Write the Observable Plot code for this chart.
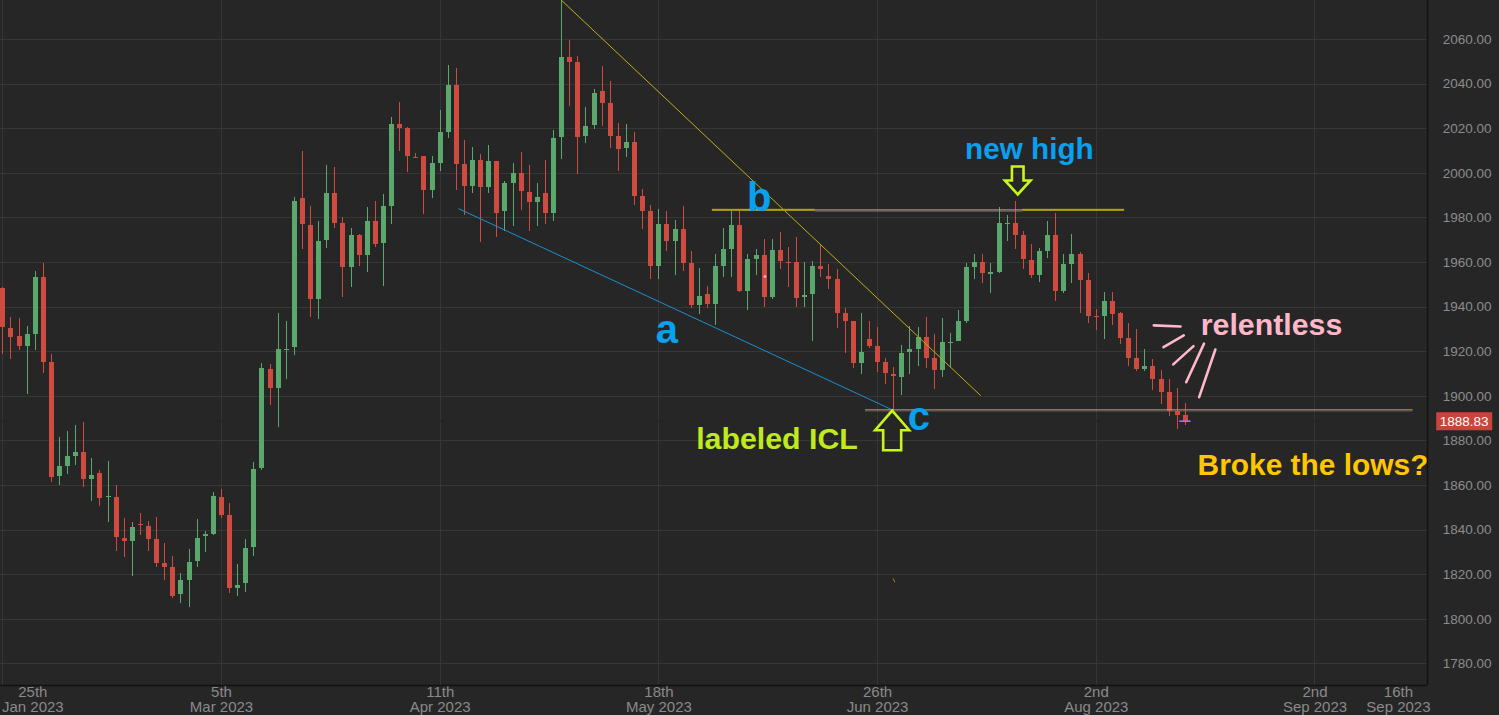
<!DOCTYPE html>
<html><head><meta charset="utf-8">
<script src="https://cdn.jsdelivr.net/npm/d3@7"></script>
<script src="https://cdn.jsdelivr.net/npm/@observablehq/plot@0.6"></script>
<style>
html,body{margin:0;padding:0;background:#262626;overflow:hidden;}
#chart svg{display:block;}
</style></head><body><div id="chart"></div>
<script>
// ---- daily candles (bar index 0..146) ----
const opens = [1948.5,1930.5,1927,1922.5,1927.7,1953.1,1915.2,1864.2,1868.5,1873.2,1875,1862.6,1865.5,1855,1854.6,1836.2,1834.9,1842.5,1841.6,1835.8,1824.9,1823.2,1811,1817.4,1826,1837,1838,1854.6,1846.4,1814,1816,1832.1,1867.5,1912.2,1903.4,1921,1921.8,1988.6,1976.7,1943.3,1969.9,1990.8,1977.4,1957.9,1972.1,1963.1,1978.4,1968.7,1985.1,2021.8,2020,2007.3,2007.5,1992.3,2004.5,2018.4,2039.4,2003.8,1994.2,2005.6,1993.5,2005.2,1982.9,1995.6,1999.8,1991.5,1987,1991.1,1981.8,2016.1,2051.8,2049.7,2016.6,2021.3,2036.7,2031.2,2016.5,2011.1,2014,1989.7,1982.7,1958.3,1976.9,1969.6,1974.8,1959.4,1940.7,1945.8,1941.3,1958.3,1966,1976.6,1947.1,1961.5,1963,1944.4,1965.4,1960.2,1960.2,1944.4,1945.5,1958.2,1953.7,1952.4,1937,1933.6,1914.9,1925.3,1922.3,1915.2,1909.8,1908.6,1919.5,1921,1926.5,1917.1,1911.6,1924.2,1924.6,1933.6,1957.9,1960.1,1954.5,1955.4,1977.4,1977.4,1972.1,1960.9,1954.2,1964.9,1972.1,1947.1,1959.1,1963.6,1951.9,1935.7,1935.9,1942.5,1937,1925.8,1917.1,1912,1913.4,1907.4,1901.6,1893.2,1891.5];
const highs = [1949,1935.5,1934.8,1931.3,1956.1,1959.7,1918.8,1881.5,1884.4,1886.8,1888.3,1872,1866.7,1870.9,1860,1845.4,1843.6,1847.6,1844,1845.8,1833.9,1828.2,1820.4,1831.2,1844.6,1839.4,1857,1858.2,1851.8,1824.6,1835.7,1870.2,1914.6,1914.1,1937.3,1933.6,1989.3,2009.9,1985,1978.4,2003.5,2002.7,1980.3,1975.1,1972.6,1984.5,1987.4,1990.4,2024.9,2031.6,2020.7,2008.7,2007.5,2007.5,2028.2,2048.3,2047.1,2014.7,2011.7,2008.3,2012.3,2005.2,1996.3,2004.3,2009.2,2003.5,1995.3,2005.7,2019.2,2077.5,2059.6,2052.5,2029.4,2037.4,2047.9,2041.3,2022.2,2021.7,2018.2,1992.6,1985.6,1983.8,1982.9,1978.8,1985.1,1964.9,1957.2,1949.2,1963.6,1975.1,1983.3,1983.3,1963.6,1966,1970.2,1970.2,1973.3,1966.6,1971.1,1960.1,1960.6,1968.1,1959.1,1956.7,1939.5,1933.6,1937,1933.7,1931,1917.1,1913.1,1922.8,1931.3,1931,1935.5,1927.7,1934.8,1928,1938.5,1959.7,1963.6,1963.6,1959.7,1984.5,1981.1,1987.4,1973.9,1967.9,1966.1,1978.5,1982.1,1963.6,1972.6,1964.4,1954.9,1938.8,1946.4,1946.7,1937.7,1932.5,1930,1921,1916.5,1911.6,1907.4,1903.4,1896.6];
const lows = [1918.7,1916.4,1920.5,1900.8,1920.5,1910.4,1861.4,1860,1865,1869,1859,1853,1850.7,1843.6,1830.6,1827.6,1819.3,1837.6,1830.6,1823.4,1817.4,1809.2,1807,1805.2,1823.4,1830.1,1837.6,1845.4,1811.5,1810,1812.2,1828.2,1866.7,1895.9,1886.2,1907.5,1918.2,1965.7,1935.5,1934.3,1966.1,1975.1,1944.4,1949,1958.3,1955.4,1966.9,1949.4,1976.9,2010,2000.5,2007,1981.5,1988.6,2000.9,2015.5,1992.3,1981.1,1991.1,1969.1,1990.8,1971.4,1974,1976.3,1983.3,1974,1976.3,1977,1978.5,2006.1,2030,1999.5,2013.5,2019.5,2021,2011,2000.9,2007,1985.7,1974.8,1952.3,1952.3,1965.1,1954.2,1956.1,1939.2,1936.6,1939.5,1931.8,1953.4,1953.1,1946.7,1938.5,1954.2,1939.7,1943.3,1956.7,1949,1940,1939.7,1924.7,1953.1,1947.8,1930.3,1919.3,1912.3,1909.8,1921.3,1910.8,1905.3,1893.6,1900.4,1909.8,1913.4,1912.3,1902.9,1908.6,1913.1,1924.6,1932.8,1952.3,1950.7,1946,1954.9,1969.6,1965.7,1956.7,1953,1951.2,1961.9,1942.5,1946,1950.7,1937.3,1932.8,1929.5,1925.3,1931.8,1923.1,1913.4,1911.3,1911.3,1902.6,1896.2,1891,1885,1886.9];
const closes = [1930.7,1926.5,1922.5,1927.7,1953.1,1915.3,1863.7,1868.5,1873,1875,1862.6,1864.4,1854.3,1855.3,1836.6,1834.9,1841,1842,1836,1825.2,1823.4,1810.4,1817.4,1825.6,1836.4,1838,1855.2,1846.6,1814,1815.2,1831.6,1867.2,1912.3,1903.4,1920.9,1921.2,1987.5,1976.9,1943.3,1969.6,1990.8,1977.6,1957.9,1972,1963.1,1978.4,1967.9,1985.1,2021.8,2020.2,2007.5,2007,1992.3,2004.5,2018.4,2039.4,2003.8,1994.2,2005.6,1993.5,2005.2,1982.1,1995.3,1999.8,1991.8,1987,1989,1981.8,2015.7,2051.8,2049.8,2016.2,2021.1,2035.9,2031.4,2016.5,2010.5,2014,1989.7,1982.7,1958.3,1976.9,1969.6,1974.8,1959.7,1940.7,1944.8,1941.3,1958.3,1966,1976.6,1947.1,1961.2,1963,1944.4,1965.4,1960.5,1959.8,1943.7,1945.2,1958.2,1956.7,1952.5,1937.3,1933.7,1914.9,1919.8,1922.3,1915.3,1910.1,1908.9,1919.3,1921,1926.5,1917.1,1911.6,1924,1924.4,1933.6,1957.6,1960.1,1954.9,1955.4,1977.4,1977.8,1972.1,1961.4,1954.2,1964.9,1972.1,1947.1,1959,1963.6,1951.9,1935.9,1935.4,1942.5,1936.7,1926.1,1917.1,1912,1913.4,1907.5,1901.6,1893.2,1891.5,1888.83];

// ---- axes ----
const yTicks = [1780,1800,1820,1840,1860,1880,1900,1920,1940,1960,1980,2000,2020,2040,2060];
const xTickIndex = [0,27,54,81,108,135,162,172.3];
const xTickLabels = ["25th\nJan 2023","5th\nMar 2023","11th\nApr 2023","18th\nMay 2023","26th\nJun 2023","2nd\nAug 2023","2nd\nSep 2023","16th\nSep 2023"];
const xGridIndex = [0,27,54,81,108,135,162];
const xDomain = [-0.284, 175.89];
const yDomain = [1770.31, 2077.49];

// ---- annotations (bar index, price) ----
const lineA = [{i:56.3,p:1984.1},{i:110,p:1893.6}];
const lineDown = [{i:69,p:2077.5},{i:120.7,p:1900.4}];
const levelB = [{i1:87.6,i2:138.5,p:1983.6}];
const levelBThick = [{i1:87.6,i2:100.3,p:1983.6},{i1:125.9,i2:138.5,p:1983.6}];
const levelBInner = [{i1:100.3,i2:125.9,p:1983.6}];
const levelC = [{i1:106.5,i2:174.1,p:1893.95}];
const pinkStrokes = [
  {i1:142.1,p1:1931.8,i2:145.4,p2:1931.3},
  {i1:143.3,p1:1922.0,i2:145.8,p2:1927.3},
  {i1:144.5,p1:1914.3,i2:147.0,p2:1922.5},
  {i1:146.1,p1:1906.3,i2:148.3,p2:1923.6},
  {i1:147.7,p1:1899.6,i2:149.7,p2:1921.0}
];
const upArrowAt = [{i:109.8,p:1893.6}];
const downArrowAt = [{i:125.3,p:1990.5}];
const labelsBlueBig = [{i:82.0,p:1924.1,t:"a"},{i:93.4,p:1982.9,t:"b"},{i:113.1,p:1885.0,t:"c"}];
const labelNewHigh = [{i:118.8,p:2006.5,t:"new high"}];
const labelICL = [{i:85.6,p:1876.5,t:"labeled ICL"}];
const labelRelentless = [{i:147.9,p:1927.3,t:"relentless"}];
const labelBroke = [{i:147.5,p:1864.5,t:"Broke the lows?"}];
const strayMark = [{i1:109.9,p1:1818.3,i2:110.15,p2:1816.6}];
const pinkDot = [{i:94.1,p:1953.7}];

const GREEN = "#5aa86c", RED = "#cf4a3f";
const bars = opens.map((o, i) => ({i, o, h: highs[i], l: lows[i], c: closes[i]}));
const up = bars.filter(d => d.c >= d.o), down = bars.filter(d => d.c < d.o);
const bodyEnd = d => Math.abs(d.c - d.o) < 0.45 ? d.o - 0.45 : d.c;
const last = bars[bars.length - 1];
const labelOf = new Map(xTickIndex.map((t, k) => [t, xTickLabels[k]]));

const upArrow = {draw(c){c.moveTo(0,0);c.lineTo(17,19.7);c.lineTo(9,19.7);c.lineTo(9,39.7);c.lineTo(-9,39.7);c.lineTo(-9,19.7);c.lineTo(-17,19.7);c.closePath();}};
const downArrow = {draw(c){c.moveTo(0,0);c.lineTo(-12.8,-14);c.lineTo(-5.8,-14);c.lineTo(-5.8,-28);c.lineTo(5.8,-28);c.lineTo(5.8,-14);c.lineTo(12.8,-14);c.closePath();}};
const priceBox = {draw(c){c.rect(-28,-9,56,18);}};

const boldFont = "Liberation Sans, Arial, Helvetica, sans-serif";
const narrowFont = "Liberation Sans Narrow, Arial Narrow, Liberation Sans, sans-serif";

const chart = Plot.plot({
  width: 1499, height: 715,
  marginLeft: 0, marginRight: 72, marginTop: 0, marginBottom: 30,
  x: {type: "linear", domain: xDomain},
  y: {type: "linear", domain: yDomain},
  style: {background: "#262626", color: "#8c8c8c", fontFamily: boldFont},
  marks: [
    Plot.gridY(yTicks, {stroke: "#363636", strokeOpacity: 1, shapeRendering: "crispEdges"}),
    Plot.gridX(xGridIndex, {stroke: "#363636", strokeOpacity: 1, shapeRendering: "crispEdges"}),
    Plot.ruleY([last], {y: "c", stroke: "#262626", strokeWidth: 2}),
    // candles
    Plot.ruleX(up, {x: "i", y1: "l", y2: "h", stroke: GREEN, strokeWidth: 1, shapeRendering: "crispEdges"}),
    Plot.ruleX(down, {x: "i", y1: "l", y2: "h", stroke: RED, strokeWidth: 1, shapeRendering: "crispEdges"}),
    Plot.ruleX(up, {x: "i", y1: "o", y2: bodyEnd, stroke: GREEN, strokeWidth: 5, shapeRendering: "crispEdges"}),
    Plot.ruleX(down, {x: "i", y1: "o", y2: bodyEnd, stroke: RED, strokeWidth: 5, shapeRendering: "crispEdges"}),
    Plot.ruleY([last], {y: "c", x1: d => d.i - 0.7, x2: d => d.i + 0.7, stroke: "#b46ee6", strokeWidth: 1.6}),
    // trend lines and levels
    Plot.line(lineA, {x: "i", y: "p", stroke: "#1b8fd2", strokeWidth: 1}),
    Plot.line(lineDown, {x: "i", y: "p", stroke: "#bfae12", strokeWidth: 1}),
    Plot.ruleY(levelBThick, {x1: "i1", x2: "i2", y: "p", stroke: "#8c7f10", strokeWidth: 2.2}),
    Plot.ruleY(levelB, {x1: "i1", x2: "i2", y: "p", stroke: "#c2b220", strokeWidth: 1}),
    Plot.ruleY(levelBInner, {x1: "i1", x2: "i2", y: "p", dy: 1.2, stroke: "#8a7ad0", strokeWidth: 1, strokeOpacity: 0.8}),
    Plot.ruleY(levelC, {x1: "i1", x2: "i2", y: "p", stroke: "#c39a2e", strokeWidth: 1}),
    Plot.ruleY(levelC, {x1: "i1", x2: "i2", y: "p", dy: 1.2, stroke: "#8a7ad0", strokeWidth: 1, strokeOpacity: 0.55}),
    Plot.link(strayMark, {x1: "i1", y1: "p1", x2: "i2", y2: "p2", stroke: "#9a8a10", strokeWidth: 1}),
    Plot.dot(pinkDot, {x: "i", y: "p", r: 1.3, fill: "#ffc0d0"}),
    Plot.link(pinkStrokes, {x1: "i1", y1: "p1", x2: "i2", y2: "p2", stroke: "#ffb7c9", strokeWidth: 2.6, strokeLinecap: "round"}),
    // arrows
    Plot.dot(upArrowAt, {x: "i", y: "p", symbol: upArrow, fill: "none", stroke: "#c8f51e", strokeWidth: 2.6}),
    Plot.dot(downArrowAt, {x: "i", y: "p", symbol: downArrow, fill: "none", stroke: "#c8f51e", strokeWidth: 2.6}),
    // labels
    Plot.text(labelsBlueBig, {x: "i", y: "p", text: "t", fill: "#0aa0f0", fontSize: 40, fontWeight: "bold", fontFamily: boldFont, textAnchor: "middle", lineAnchor: "bottom"}),
    Plot.text(labelNewHigh, {x: "i", y: "p", text: "t", fill: "#0aa0f0", fontSize: 29.7, fontWeight: "bold", fontFamily: boldFont, textAnchor: "start", lineAnchor: "bottom"}),
    Plot.text(labelICL, {x: "i", y: "p", text: "t", fill: "#bfeb1e", fontSize: 30.3, fontWeight: "bold", fontFamily: boldFont, textAnchor: "start", lineAnchor: "bottom"}),
    Plot.text(labelRelentless, {x: "i", y: "p", text: "t", fill: "#ffb7c9", fontSize: 30.3, fontWeight: "bold", fontFamily: boldFont, textAnchor: "start", lineAnchor: "bottom"}),
    Plot.text(labelBroke, {x: "i", y: "p", text: "t", fill: "#ffc700", fontSize: 29.9, fontWeight: "bold", fontFamily: boldFont, textAnchor: "start", lineAnchor: "bottom"}),
    // axes
    Plot.axisY(yTicks, {anchor: "right", tickSize: 0, tickPadding: 64, textAnchor: "end", tickFormat: d => d.toFixed(2), fill: "#8c8c8c", fontSize: 13.5, fontFamily: boldFont, label: null}),
    Plot.axisX(xTickIndex.slice(1), {anchor: "bottom", tickSize: 0, tickPadding: 1, tickFormat: d => labelOf.get(d), fill: "#8a8a8a", fontSize: 15, lineHeight: 1.0, fontFamily: narrowFont, label: null}),
    Plot.axisX(xTickIndex.slice(0, 1), {anchor: "bottom", tickSize: 0, tickPadding: 1, dx: 30, tickFormat: d => labelOf.get(d), fill: "#8a8a8a", fontSize: 15, lineHeight: 1.0, fontFamily: narrowFont, label: null}),
    // frame edges
    Plot.ruleX([xDomain[1]], {stroke: "#121212", strokeWidth: 1.5}),
    Plot.ruleY([yDomain[0]], {stroke: "#121212", strokeWidth: 1.5}),
    // last price tag
    Plot.dot([last], {y: "c", frameAnchor: "right", dx: 36.7, symbol: priceBox, fill: "#c8453c", stroke: "none"}),
    Plot.text([last], {y: "c", frameAnchor: "right", dx: 36.7, text: d => d.c.toFixed(2), fill: "#ffffff", fontSize: 13.5, fontFamily: boldFont, textAnchor: "middle"})
  ]
});
document.getElementById("chart").append(chart);
</script>
</body></html>
